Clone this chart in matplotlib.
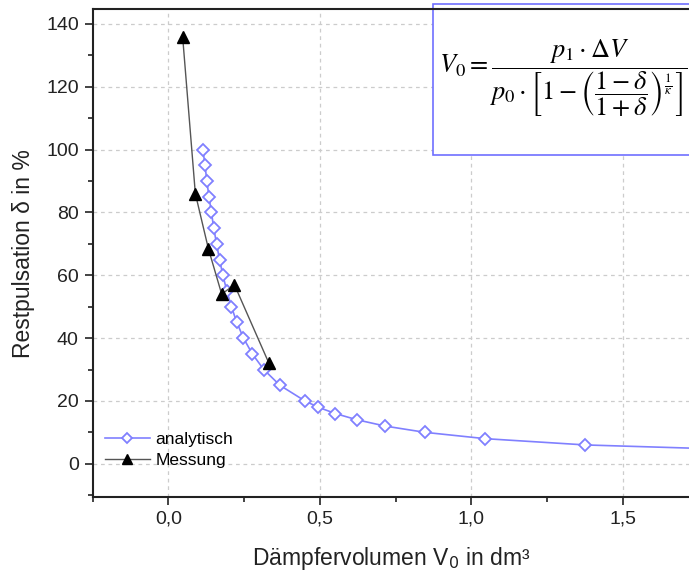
import matplotlib
matplotlib.use('Agg')
import matplotlib.pyplot as plt
from matplotlib.patches import Rectangle
from matplotlib.ticker import MultipleLocator, FuncFormatter

plt.rcParams['font.family'] = ['Liberation Sans', 'DejaVu Sans']

# analytical curve
ana_v0 = [0.114, 0.121, 0.127, 0.134, 0.142, 0.150, 0.159, 0.169, 0.180, 0.193,
          0.208, 0.226, 0.248, 0.277, 0.315, 0.368, 0.451, 0.495, 0.551, 0.623,
          0.716, 0.848, 1.046, 1.377, 2.06]
ana_delta = [100, 95, 90, 85, 80, 75, 70, 65, 60, 55, 50, 45, 40, 35, 30, 25,
             20, 18, 16, 14, 12, 10, 8, 6, 4]

# measurement
mes_v0 = [0.047, 0.089, 0.132, 0.176, 0.218, 0.332]
mes_delta = [136, 86, 68.5, 54, 57, 32]

fig = plt.figure(figsize=(6.89, 5.76), dpi=100)
ax = fig.add_axes([0.1345, 0.137, 0.8655, 0.847])

ax.grid(True, color='#cccccc', linestyle=(0, (3, 3)), linewidth=0.9)
ax.set_axisbelow(True)

ax.plot(ana_v0, ana_delta, color='#8080ff', linewidth=1.2, marker='D',
        markersize=6, markerfacecolor='white', markeredgecolor='#8080ff',
        markeredgewidth=1.3, label='analytisch', zorder=3)
ax.plot(mes_v0, mes_delta, color='#555555', linewidth=1.0, marker='^',
        markersize=9, markerfacecolor='black', markeredgecolor='black',
        label='Messung', zorder=4)

ax.set_xlim(-0.25, 1.719)
ax.set_ylim(-10.6, 144.7)
ax.xaxis.set_major_locator(MultipleLocator(0.5))
ax.xaxis.set_minor_locator(MultipleLocator(0.25))
ax.yaxis.set_major_locator(MultipleLocator(20))
ax.yaxis.set_minor_locator(MultipleLocator(10))
ax.xaxis.set_major_formatter(FuncFormatter(lambda v, p: f'{v:.1f}'.replace('.', ',')))
ax.tick_params(which='major', direction='out', length=6, width=1.2, labelsize=14,
               color='#222222', labelcolor='#222222', pad=4)
ax.tick_params(which='minor', direction='out', length=3.5, width=1.2, color='#222222')
ax.tick_params(top=False, right=False)
for s in ['left', 'bottom', 'top']:
    ax.spines[s].set_linewidth(1.5)
    ax.spines[s].set_color('#222222')
    ax.spines[s].set_zorder(7)
ax.spines['right'].set_visible(False)

ax.set_xlabel(r'Dämpfervolumen V$_0$ in dm³', fontsize=16.5, color='#222222', labelpad=12)
ax.set_ylabel('Restpulsation δ in %', fontsize=16.5, color='#222222', labelpad=8)

leg = ax.legend(loc='lower left', frameon=False, fontsize=12.5, handlelength=2.6,
                handletextpad=0.3, labelspacing=0.3, borderaxespad=0.3,
                bbox_to_anchor=(0.0, 0.035), markerscale=0.8)

# formula box
ax.add_patch(Rectangle((0.570, 0.701), 0.5, 0.31, transform=ax.transAxes,
                       facecolor='white', edgecolor='#7070ff', linewidth=1.2,
                       clip_on=False, zorder=5))
ax.text(0.581, 0.858,
        r'$V_0 = \dfrac{p_1\cdot\Delta V}{p_0\cdot\left[1-\left(\dfrac{1-\delta}{1+\delta}\right)^{\frac{1}{\kappa}}\right]}$',
        transform=ax.transAxes, fontsize=19, math_fontfamily='stix',
        ha='left', va='center', zorder=6)

fig.savefig('out.png', dpi=100)
